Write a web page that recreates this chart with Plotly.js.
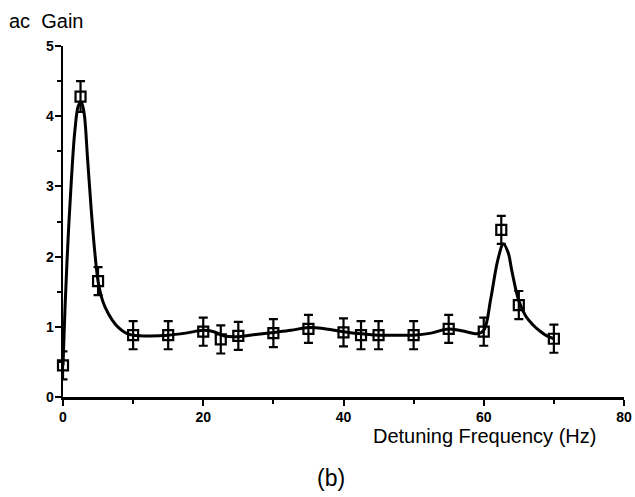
<!DOCTYPE html>
<html>
<head>
<meta charset="utf-8">
<script src="https://cdn.plot.ly/plotly-3.0.1.min.js"></script>
<style>html,body{margin:0;padding:0;background:#fff;}#chart{width:635px;height:497px;}</style>
</head>
<body>
<div id="chart"></div>
<script>
// Measured points (Detuning frequency in Hz, ac gain, error)
const freq = [0, 2.5, 5, 10, 15, 20, 22.5, 25, 30, 35, 40, 42.5, 45, 50, 55, 60, 62.5, 65, 70];
const gain = [0.45, 4.28, 1.65, 0.88, 0.88, 0.93, 0.82, 0.87, 0.91, 0.97, 0.92, 0.88, 0.88, 0.88, 0.97, 0.93, 2.38, 1.31, 0.83];
const gainErr = [0.2, 0.22, 0.2, 0.2, 0.2, 0.2, 0.2, 0.2, 0.2, 0.2, 0.2, 0.2, 0.2, 0.2, 0.2, 0.2, 0.2, 0.2, 0.2];

// Fitted curve
const fitX = [0, 0.3, 0.7, 1.2, 1.7, 2.2, 2.6, 3.0, 3.5, 4.0, 4.5, 5.0, 5.5, 6.0, 7.0, 8.0, 9.0, 10, 12.5, 15, 17.5, 20, 21.5, 23, 25, 27.5, 30, 32.5, 35, 37.5, 40, 42.5, 45, 47.5, 50, 52.5, 55, 57.5, 59, 60, 61, 62, 62.8, 63.5, 64, 65, 66, 67, 68, 69, 70];
const fitY = [0.45, 1.3, 2.2, 3.1, 3.8, 4.15, 4.2, 4.05, 3.4, 2.7, 2.1, 1.65, 1.42, 1.28, 1.1, 0.98, 0.91, 0.88, 0.87, 0.88, 0.91, 0.95, 0.93, 0.87, 0.86, 0.89, 0.92, 0.95, 0.99, 0.97, 0.93, 0.9, 0.88, 0.88, 0.88, 0.91, 0.97, 0.93, 0.9, 0.95, 1.4, 1.95, 2.18, 2.05, 1.8, 1.37, 1.15, 1.03, 0.94, 0.87, 0.83];

const xTicks = [0, 20, 40, 60, 80];
const yTicks = [0, 1, 2, 3, 4, 5];

const tickFont = {family: 'Liberation Sans, Arial, sans-serif', size: 14, color: '#000', weight: 'bold'};
const labelFont = {family: 'Liberation Sans, Arial, sans-serif', size: 20, color: '#000'};

const traces = [
  {
    x: fitX, y: fitY, type: 'scatter', mode: 'lines',
    line: {color: '#000', width: 3, shape: 'spline', smoothing: 1},
    cliponaxis: false, hoverinfo: 'skip'
  },
  {
    x: freq, y: gain, type: 'scatter', mode: 'markers',
    marker: {symbol: 'square-open', size: 10, color: '#000', line: {color: '#000', width: 2.2}},
    error_y: {type: 'data', array: gainErr, visible: true, color: '#000', thickness: 2.2, width: 4.5},
    cliponaxis: false
  }
];

const layout = {
  width: 635, height: 497,
  margin: {l: 63, r: 11, t: 46, b: 100},
  paper_bgcolor: '#fff', plot_bgcolor: '#fff',
  showlegend: false,
  xaxis: {
    range: [0, 80], tickvals: xTicks, ticktext: xTicks.map(String),
    showgrid: false, zeroline: false, showline: true, linecolor: '#000', linewidth: 2.5,
    ticks: 'outside', ticklen: 6, tickwidth: 2, tickcolor: '#000',
    minor: {tickvals: [10, 30, 50, 70], ticks: 'outside', ticklen: 4, tickwidth: 2, tickcolor: '#000'},
    tickfont: tickFont, fixedrange: true
  },
  yaxis: {
    range: [0, 5], tickvals: yTicks, ticktext: yTicks.map(String),
    showgrid: false, zeroline: false, showline: true, linecolor: '#000', linewidth: 2.5,
    ticks: 'outside', ticklen: 6, tickwidth: 2, tickcolor: '#000', ticklabelstandoff: -2,
    minor: {tickvals: [0.5, 1.5, 2.5, 3.5, 4.5], ticks: 'outside', ticklen: 4, tickwidth: 2, tickcolor: '#000'},
    tickfont: tickFont, fixedrange: true
  },
  annotations: [
    {text: 'ac&nbsp; Gain', xref: 'paper', yref: 'paper', x: (7 - 63) / 561, y: (397 - 21) / 351, xanchor: 'left', yanchor: 'middle', showarrow: false, font: labelFont},
    {text: 'Detuning Frequency (Hz)', xref: 'paper', yref: 'paper', x: (598 - 63) / 561, y: (397 - 436) / 351, xanchor: 'right', yanchor: 'middle', showarrow: false, font: labelFont},
    {text: '(b)', xref: 'paper', yref: 'paper', x: (331 - 63) / 561, y: (397 - 478) / 351, xanchor: 'center', yanchor: 'middle', showarrow: false, font: {family: 'Liberation Sans, Arial, sans-serif', size: 23, color: '#000'}}
  ]
};

Plotly.newPlot('chart', traces, layout, {displayModeBar: false, staticPlot: true});
</script>
</body>
</html>
